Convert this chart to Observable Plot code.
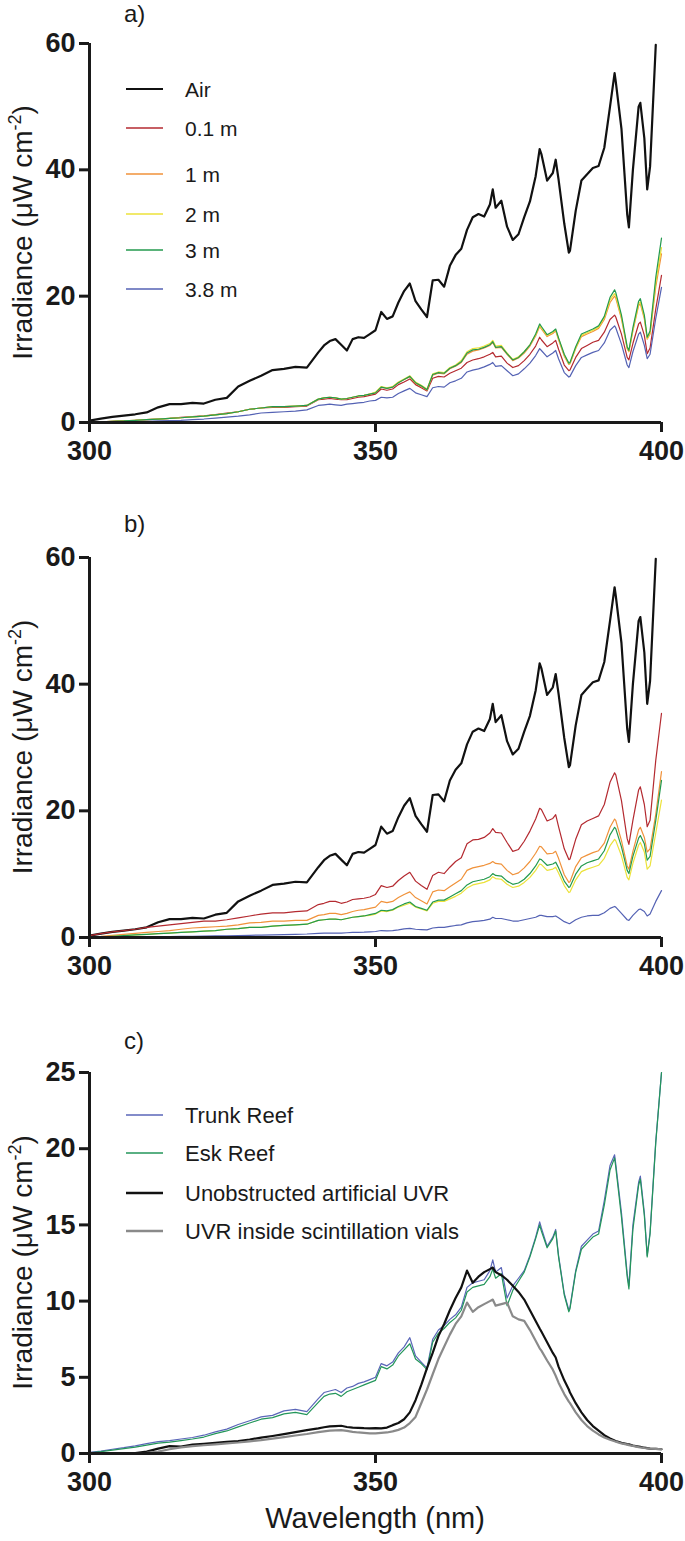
<!DOCTYPE html>
<html>
<head>
<meta charset="utf-8">
<script src="https://cdn.jsdelivr.net/npm/d3@7"></script>
<script src="https://cdn.jsdelivr.net/npm/@observablehq/plot@0.6"></script>
<style>
  html, body { margin: 0; padding: 0; background: #fff; }
  #wrap { position: relative; width: 685px; height: 1541px; overflow: hidden; }
  #wrap svg { position: absolute; left: 0; }
</style>
</head>
<body>
<div id="wrap"></div>
<script>
// ---------- DATA ----------
const wavelength = [300,302,304,306,308,310,312,314,316,318,
  320,322,324,326,328,330,332,334,336,338,
  340,341,342,343,344,345,346,347,348,349,
  350,351,352,353,354,355,356,357,358,359,
  360,361,362,363,364,365,366,367,368,369,
  370,370.5,371,372,373,374,375,376,377,378,
  378.7,379,380,381,381.5,382,383,383.8,384,385,
  386,387,388,389,390,391,391.8,392,393,394,
  394.3,395,396,396.3,397,397.5,398,399,400];

const xTicks = [300, 350, 400];
const yTicksAB = [0, 20, 40, 60];
const yTicksC = [0, 5, 10, 15, 20, 25];

// Air (used in panels a and b)
const air = [0.3,0.6,0.9,1.1,1.3,1.6,2.4,2.9,2.9,3.1,
  3.0,3.6,3.9,5.7,6.6,7.4,8.3,8.5,8.8,8.7,
  11.1,12.2,12.9,13.2,12.3,11.4,13.2,13.5,13.4,14.0,
  14.6,17.5,16.4,16.8,19.0,20.8,22.0,19.2,17.9,16.7,
  22.5,22.6,21.5,24.8,26.5,27.5,30.5,32.5,33.0,32.6,
  34.5,36.9,34.0,35.1,31.0,28.9,29.8,32.5,35.0,39.0,
  43.3,42.5,38.3,39.5,41.6,38.5,31.5,26.9,27.2,33.5,
  38.3,39.3,40.3,40.6,43.5,50.0,55.3,54.0,46.5,33.0,
  30.9,40.0,50.0,50.6,45.0,36.9,40.5,59.8,null];

// Panel a
const a_01m = [0.05,0.1,0.2,0.3,0.35,0.45,0.55,0.65,0.8,0.95,
  1.05,1.25,1.5,1.7,2.1,2.3,2.4,2.4,2.5,2.6,
  3.6,3.7,3.8,3.7,3.6,3.6,3.8,4.0,4.1,4.3,
  4.5,5.3,5.1,5.3,6.0,6.4,6.9,6.0,5.5,5.0,
  7.0,7.3,7.2,7.8,8.2,8.6,9.5,9.9,10.1,10.4,
  10.8,11.1,10.4,10.5,9.4,8.7,9.0,9.8,10.8,12.1,
  13.5,13.1,12.0,12.6,13.0,11.6,9.1,8.2,8.3,10.3,
  11.7,12.2,12.7,13.0,14.3,16.3,17.0,16.7,14.0,10.3,
  9.9,12.5,15.6,15.9,13.8,10.9,11.8,18.0,23.3];
const a_1m = [0.05,0.1,0.2,0.25,0.35,0.45,0.55,0.65,0.75,0.9,
  1.0,1.2,1.4,1.7,2.1,2.3,2.5,2.5,2.6,2.7,
  3.7,3.9,4.0,3.9,3.7,3.8,4.0,4.2,4.3,4.5,
  4.7,5.6,5.4,5.6,6.3,6.8,7.2,6.2,5.7,5.1,
  7.5,7.8,7.7,8.5,8.9,9.5,10.8,11.3,11.5,11.8,
  12.2,12.7,11.8,11.9,10.8,9.8,10.2,11.0,12.1,13.7,
  15.2,14.8,13.6,14.1,14.5,13.1,10.5,9.2,9.3,11.7,
  13.6,14.0,14.4,14.9,16.3,19.0,20.0,19.7,16.4,11.7,
  11.2,14.5,18.5,18.8,16.4,13.2,14.0,21.5,26.7];
const a_2m = [0.05,0.1,0.2,0.25,0.35,0.45,0.55,0.65,0.75,0.9,
  1.0,1.2,1.4,1.7,2.1,2.3,2.5,2.5,2.6,2.7,
  3.7,3.9,4.0,3.9,3.7,3.8,4.0,4.2,4.3,4.5,
  4.8,5.7,5.5,5.7,6.4,6.9,7.4,6.4,5.9,5.3,
  7.7,8.0,7.9,8.7,9.1,9.8,11.2,11.7,11.8,12.1,
  12.5,13.0,12.1,12.2,11.0,10.0,10.4,11.2,12.3,13.9,
  15.4,15.0,13.8,14.3,14.7,13.3,10.7,9.3,9.4,11.8,
  13.8,14.2,14.6,15.1,16.6,19.4,20.4,20.1,16.7,11.8,
  11.3,14.7,18.8,19.1,16.7,13.3,14.2,22.2,27.7];
const a_3m = [0.05,0.1,0.2,0.25,0.35,0.45,0.55,0.65,0.75,0.9,
  1.0,1.2,1.4,1.7,2.1,2.3,2.5,2.5,2.6,2.7,
  3.7,3.9,4.0,3.9,3.7,3.8,4.0,4.2,4.3,4.5,
  4.7,5.6,5.4,5.6,6.3,6.8,7.3,6.3,5.8,5.2,
  7.6,7.9,7.8,8.6,9.0,9.6,11.0,11.5,11.6,11.9,
  12.3,12.8,11.9,12.0,10.9,9.9,10.3,11.2,12.3,14.0,
  15.6,15.2,13.9,14.4,14.8,13.4,10.8,9.4,9.5,12.0,
  14.0,14.4,14.8,15.3,16.8,19.8,21.0,20.6,17.0,12.0,
  11.4,15.0,19.2,19.6,17.0,13.5,14.5,23.0,29.2];
const a_38m = [0.02,0.05,0.08,0.1,0.15,0.2,0.25,0.3,0.35,0.45,
  0.55,0.7,0.85,1.0,1.2,1.5,1.6,1.7,1.8,2.0,
  2.7,2.8,2.9,2.8,2.7,2.9,3.0,3.1,3.2,3.4,
  3.5,4.0,3.9,4.0,4.6,5.0,5.4,4.7,4.4,4.1,
  5.5,5.7,5.6,6.3,6.6,7.0,8.0,8.3,8.5,8.8,
  9.2,9.5,8.9,9.0,8.2,7.4,7.7,8.5,9.4,10.6,
  11.7,11.4,10.4,11.0,11.4,10.1,7.9,7.2,7.3,9.0,
  10.3,10.7,11.1,11.4,12.6,14.6,15.3,15.0,12.4,9.1,
  8.7,11.2,14.0,14.3,12.2,10.1,10.8,16.5,21.4];

// Panel b
const b_01m = [0.3,0.6,0.9,1.1,1.3,1.6,1.8,2.0,2.2,2.4,
  2.6,2.6,2.8,3.1,3.4,3.7,3.9,3.9,4.1,4.2,
  5.2,5.4,5.7,5.7,5.4,5.6,6.0,6.1,6.2,6.4,
  6.8,8.2,7.9,8.1,9.0,9.7,10.3,8.9,8.2,7.6,
  9.8,10.3,10.1,11.1,12.0,12.6,14.8,15.4,15.5,15.8,
  16.5,17.2,16.6,16.5,15.0,13.6,13.9,15.2,16.8,18.7,
  20.4,20.2,18.4,18.8,19.4,17.5,14.0,12.3,12.4,15.5,
  17.8,18.4,18.8,19.2,21.0,24.5,26.0,25.7,21.6,15.6,
  14.7,18.5,23.3,23.8,21.0,17.5,18.5,28.0,35.4];
const b_1m = [0.1,0.2,0.35,0.5,0.65,0.8,0.95,1.1,1.3,1.5,
  1.6,1.7,1.8,2.0,2.3,2.4,2.6,2.6,2.7,2.7,
  3.5,3.6,3.8,3.8,3.6,3.8,4.1,4.3,4.4,4.6,
  4.8,5.7,5.5,5.7,6.3,6.8,7.2,6.3,5.8,5.3,
  7.2,7.5,7.4,8.0,8.6,9.2,10.6,11.0,11.2,11.4,
  11.7,12.0,11.7,11.6,10.6,9.9,10.2,11.0,12.0,13.3,
  14.4,14.3,13.2,13.3,13.6,12.5,9.9,8.7,8.8,11.2,
  12.6,13.0,13.4,13.7,14.9,17.4,18.7,18.5,15.3,11.3,
  10.8,13.6,17.0,17.4,15.8,13.5,14.0,19.5,26.2];
const b_2m = [0.05,0.1,0.2,0.3,0.4,0.5,0.6,0.7,0.8,0.9,
  1.0,1.1,1.3,1.4,1.6,1.6,1.8,1.9,2.0,2.1,
  2.7,2.8,2.9,2.9,2.8,3.0,3.2,3.3,3.4,3.5,
  3.7,4.2,4.1,4.3,4.8,5.1,5.4,4.8,4.5,4.2,
  5.4,5.7,5.7,6.1,6.5,7.0,7.8,8.3,8.5,8.7,
  9.1,9.6,9.3,9.2,8.4,7.9,8.1,8.7,9.5,10.6,
  11.6,11.5,10.6,10.8,11.1,10.2,8.2,7.1,7.2,9.1,
  10.4,10.8,11.1,11.4,12.5,14.5,15.5,15.3,12.9,9.5,
  9.1,11.7,14.6,15.0,13.5,10.8,11.3,16.5,21.7];
const b_3m = [0.05,0.1,0.2,0.3,0.4,0.5,0.6,0.7,0.8,0.9,
  1.0,1.1,1.3,1.4,1.6,1.6,1.8,1.9,2.0,2.1,
  2.7,2.8,2.9,2.9,2.8,3.0,3.2,3.3,3.4,3.6,
  3.8,4.3,4.2,4.4,4.9,5.3,5.6,4.9,4.6,4.3,
  5.6,5.9,5.9,6.4,6.9,7.4,8.3,8.8,9.0,9.2,
  9.6,10.1,9.8,9.7,8.9,8.4,8.6,9.2,10.1,11.3,
  12.4,12.3,11.4,11.6,11.9,11.0,8.9,7.9,8.0,10.0,
  11.3,11.8,12.1,12.4,13.7,16.2,17.4,17.2,14.3,10.6,
  10.1,12.8,15.7,16.1,14.8,12.2,12.8,18.5,24.8];
const b_38m = [0.0,0.02,0.04,0.06,0.08,0.1,0.12,0.15,0.18,0.2,
  0.22,0.25,0.28,0.3,0.35,0.38,0.42,0.45,0.5,0.55,
  0.65,0.68,0.7,0.7,0.7,0.75,0.8,0.82,0.85,0.9,
  0.95,1.1,1.05,1.1,1.2,1.35,1.45,1.3,1.25,1.2,
  1.5,1.6,1.6,1.75,1.9,2.0,2.3,2.5,2.6,2.7,
  2.9,3.2,3.0,3.0,2.8,2.6,2.6,2.8,3.0,3.2,
  3.5,3.5,3.3,3.3,3.4,3.1,2.5,2.2,2.2,2.8,
  3.2,3.4,3.5,3.5,3.9,4.6,4.9,4.8,3.8,2.8,
  2.7,3.5,4.4,4.5,4.1,3.4,3.7,5.7,7.4];

// Panel c
const c_trunk = [0.07,0.15,0.28,0.38,0.5,0.65,0.78,0.85,0.95,1.05,
  1.2,1.42,1.6,1.9,2.15,2.4,2.5,2.8,2.9,2.75,
  3.6,4.0,4.1,4.2,4.0,4.3,4.4,4.6,4.7,4.85,
  5.0,5.9,5.75,6.0,6.6,7.0,7.6,6.4,6.0,5.6,
  7.5,8.1,8.4,8.8,9.1,9.6,10.9,11.2,11.3,11.4,
  12.0,12.7,11.9,12.2,10.2,11.0,11.5,12.0,13.0,14.2,
  15.2,14.8,13.6,14.2,14.7,13.0,10.5,9.4,9.6,12.0,
  13.6,14.0,14.4,14.6,16.6,18.9,19.6,19.0,15.8,11.8,
  11.0,15.0,17.8,18.2,15.8,13.0,14.5,20.5,25.0];
const c_esk = [0.05,0.12,0.22,0.32,0.42,0.55,0.68,0.75,0.85,0.95,
  1.08,1.3,1.48,1.75,2.0,2.25,2.35,2.6,2.7,2.55,
  3.35,3.75,3.9,3.95,3.75,4.05,4.2,4.35,4.5,4.65,
  4.8,5.7,5.55,5.8,6.4,6.8,7.2,6.2,5.9,5.5,
  7.3,7.9,8.2,8.6,8.9,9.4,10.6,10.9,11.0,11.1,
  11.6,12.1,11.5,11.8,9.7,10.7,11.3,11.9,12.9,14.1,
  15.0,14.6,13.5,14.1,14.6,12.9,10.4,9.3,9.5,11.9,
  13.4,13.8,14.2,14.4,16.3,18.6,19.4,18.8,15.5,11.6,
  10.8,14.7,17.6,18.0,15.6,12.9,14.4,20.4,25.0];
const c_unobstructed = [0.0,0.0,0.0,0.0,0.02,0.12,0.32,0.48,0.46,0.58,
  0.64,0.7,0.76,0.82,0.92,1.04,1.15,1.27,1.4,1.53,
  1.65,1.72,1.78,1.8,1.82,1.74,1.7,1.68,1.66,1.65,
  1.66,1.65,1.7,1.86,2.0,2.25,2.7,3.5,4.5,5.6,
  6.6,7.7,8.5,9.4,10.2,10.9,12.0,11.2,11.6,11.9,
  12.1,12.2,11.9,11.7,11.4,11.0,10.6,10.1,9.4,8.7,
  8.2,8.0,7.3,6.6,6.3,5.7,4.8,4.2,4.0,3.3,
  2.7,2.2,1.8,1.5,1.2,0.98,0.85,0.82,0.7,0.62,
  0.6,0.52,0.45,0.43,0.38,0.35,0.32,0.3,0.28];
const c_vials = [0.0,0.0,0.0,0.0,0.0,0.05,0.12,0.28,0.4,0.48,
  0.54,0.6,0.66,0.72,0.8,0.88,0.98,1.08,1.18,1.28,
  1.4,1.45,1.5,1.52,1.53,1.48,1.42,1.38,1.35,1.32,
  1.32,1.35,1.38,1.45,1.55,1.7,2.0,2.4,3.3,4.2,
  5.2,6.2,7.0,7.8,8.5,9.0,9.9,9.3,9.6,9.8,
  10.0,10.1,9.7,9.8,9.9,9.0,8.8,8.7,8.1,7.4,
  6.9,6.75,6.1,5.5,5.1,4.65,3.9,3.4,3.3,2.7,
  2.2,1.8,1.5,1.25,1.05,0.9,0.8,0.78,0.66,0.58,
  0.55,0.5,0.42,0.4,0.36,0.34,0.32,0.3,0.28];

// Series names and colours
const namesAB = ["Air", "0.1 m", "1 m", "2 m", "3 m", "3.8 m"];
const colorsAB = ["#111111", "#b42a30", "#f0923a", "#ece23a", "#239a4e", "#5462b4"];
const widthsAB = [2.2, 1.2, 1.2, 1.2, 1.2, 1.2];
const valuesA = [air, a_01m, a_1m, a_2m, a_3m, a_38m];
const valuesB = [air, b_01m, b_1m, b_2m, b_3m, b_38m];

const namesC = ["Trunk Reef", "Esk Reef", "Unobstructed artificial UVR", "UVR inside scintillation vials"];
const colorsC = ["#5a66b8", "#23965a", "#111111", "#8a8a8a"];
const widthsC = [1.2, 1.2, 2.2, 2.2];
const valuesC = [c_trunk, c_esk, c_unobstructed, c_vials];

// ---------- CHECK ----------
[...valuesA, ...valuesB, ...valuesC].forEach((arr, k) => {
  if (arr.length !== wavelength.length) throw new Error("series " + k + " has " + arr.length + " values, expected " + wavelength.length);
});

// ---------- DRAW ----------
const tickFont = "'Liberation Sans Narrow', 'Arial Narrow', 'Liberation Sans', Arial, sans-serif";
const textFont = "'Liberation Sans', Arial, Helvetica, sans-serif";
const ink = "#1a1a1a";

function makePanel({names, colors, widths, values, yMax, yTicks, height, marginTop, marginBottom, top,
                    letter, letterY, legendRows, legendFont, legendWidths, xTitle}) {
  const rows = [];
  values.forEach((arr, k) => arr.forEach((v, i) => { if (v != null) rows.push({w: wavelength[i], v, s: names[k]}); }));
  const svg = Plot.plot({
    width: 685, height, marginLeft: 89, marginRight: 24, marginTop, marginBottom,
    style: {fontFamily: tickFont, fontSize: "27px", fontWeight: "bold", color: ink, background: "transparent", overflow: "visible"},
    x: {domain: [300, 400]},
    y: {domain: [0, yMax]},
    marks: [
      ...names.map((n, k) => Plot.line(rows.filter(d => d.s === n), {x: "w", y: "v", stroke: colors[k], strokeWidth: widths[k], strokeLinejoin: "round"})),
      Plot.ruleY([0], {stroke: ink, strokeWidth: 3}),
      Plot.ruleX([300], {stroke: ink, strokeWidth: 3}),
      Plot.axisX({ticks: xTicks, tickSize: 10, tickPadding: 8, strokeWidth: 3, stroke: ink, label: null, tickFormat: d => String(d)}),
      Plot.axisY({ticks: yTicks, tickSize: 10, tickPadding: 4, strokeWidth: 3, stroke: ink, label: null, tickFormat: d => String(d)})
    ]
  });
  svg.style.top = top + "px";
  const s = d3.select(svg);
  const plotMid = (marginTop + (height - marginBottom)) / 2;

  // panel letter
  s.append("text").attr("x", 124).attr("y", letterY).attr("text-anchor", "start")
    .attr("font-family", textFont).attr("font-size", 24).attr("font-weight", "normal").attr("fill", ink)
    .text(letter);

  // y-axis title with superscript
  const t = s.append("text")
    .attr("transform", `translate(32,${plotMid}) rotate(-90)`)
    .attr("text-anchor", "middle")
    .attr("font-family", textFont).attr("font-size", 28).attr("font-weight", "normal").attr("fill", ink);
  t.append("tspan").text("Irradiance (μW cm");
  t.append("tspan").attr("font-size", 18).attr("dy", -11).text("-2");
  t.append("tspan").attr("dy", 11).text(")");

  // legend
  if (legendRows) {
    legendRows.forEach((y, k) => {
      s.append("line").attr("x1", 126).attr("x2", 163).attr("y1", y).attr("y2", y)
        .attr("stroke", colors[k]).attr("stroke-width", legendWidths[k]);
      s.append("text").attr("x", 185).attr("y", y).attr("dy", "0.36em").attr("text-anchor", "start")
        .attr("font-family", textFont).attr("font-size", legendFont).attr("font-weight", "normal").attr("fill", ink)
        .text(names[k]);
    });
  }

  if (xTitle) {
    s.append("text").attr("x", 375).attr("y", 500).attr("text-anchor", "middle")
      .attr("font-family", textFont).attr("font-size", 29).attr("font-weight", "normal").attr("fill", ink)
      .text(xTitle);
  }
  document.getElementById("wrap").appendChild(svg);
}

makePanel({names: namesAB, colors: colorsAB, widths: widthsAB, values: valuesA, yMax: 60, yTicks: yTicksAB,
  height: 514, marginTop: 43, marginBottom: 92, top: 0, letter: "a)", letterY: 22,
  legendRows: [89, 128, 174, 214, 250, 289], legendFont: 21, legendWidths: [2, 1.5, 1.5, 1.5, 1.5, 1.5]});

makePanel({names: namesAB, colors: colorsAB, widths: widthsAB, values: valuesB, yMax: 60, yTicks: yTicksAB,
  height: 514, marginTop: 43, marginBottom: 91, top: 514, letter: "b)", letterY: 18});

makePanel({names: namesC, colors: colorsC, widths: widthsC, values: valuesC, yMax: 25, yTicks: yTicksC,
  height: 513, marginTop: 44, marginBottom: 88, top: 1028, letter: "c)", letterY: 21,
  legendRows: [87, 125, 165, 203], legendFont: 22, legendWidths: [1.5, 1.5, 2.5, 2.5],
  xTitle: "Wavelength (nm)"});
</script>
</body>
</html>
